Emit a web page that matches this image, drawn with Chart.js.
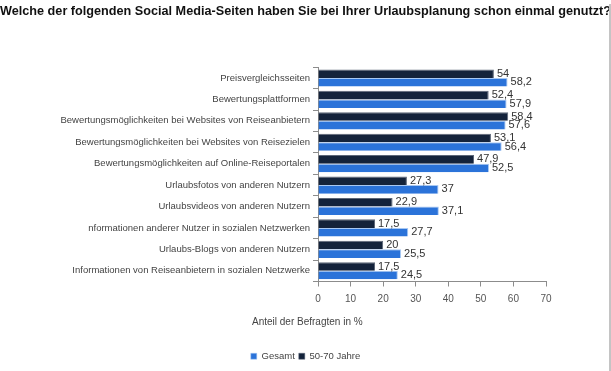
<!DOCTYPE html>
<html>
<head>
<meta charset="utf-8">
<script src="https://cdn.jsdelivr.net/npm/chart.js@4/dist/chart.umd.min.js"></script>
<style>
html,body{margin:0;padding:0;background:#fff;}
#wrap{position:relative;width:611px;height:371px;}
</style>
</head>
<body>
<div id="wrap"><canvas id="c" width="611" height="371"></canvas></div>
<script>
const titleText = "Welche der folgenden Social Media-Seiten haben Sie bei Ihrer Urlaubsplanung schon einmal genutzt?";
const categories = [
  "Preisvergleichsseiten",
  "Bewertungsplattformen",
  "Bewertungsmöglichkeiten bei Websites von Reiseanbietern",
  "Bewertungsmöglichkeiten bei Websites von Reisezielen",
  "Bewertungsmöglichkeiten auf Online-Reiseportalen",
  "Urlaubsfotos von anderen Nutzern",
  "Urlaubsvideos von anderen Nutzern",
  "nformationen anderer Nutzer in sozialen Netzwerken",
  "Urlaubs-Blogs von anderen Nutzern",
  "Informationen von Reiseanbietern in sozialen Netzwerke"
];
const series5070 = [54, 52.4, 58.4, 53.1, 47.9, 27.3, 22.9, 17.5, 20, 17.5];
const seriesGesamt = [58.2, 57.9, 57.6, 56.4, 52.5, 37, 37.1, 27.7, 25.5, 24.5];
const xTicks = [0, 10, 20, 30, 40, 50, 60, 70];
const axisTitle = "Anteil der Befragten in %";

const valueLabels = {
  id: 'valueLabels',
  afterDatasetsDraw(chart) {
    const ctx = chart.ctx;
    ctx.save();
    ctx.font = '11px "Liberation Sans", Arial, sans-serif';
    ctx.fillStyle = '#333333';
    ctx.textAlign = 'left';
    ctx.textBaseline = 'middle';
    chart.data.datasets.forEach((ds, i) => {
      const meta = chart.getDatasetMeta(i);
      meta.data.forEach((bar, j) => {
        const v = ds.data[j];
        ctx.fillText(String(v).replace('.', ','), bar.x + 3, bar.y);
      });
    });
    ctx.restore();
  }
};

const extras = {
  id: 'extras',
  afterDraw(chart) {
    const ctx = chart.ctx;
    const a = chart.chartArea;
    ctx.save();
    ctx.font = '10px "Liberation Sans", Arial, sans-serif';
    ctx.fillStyle = '#444444';
    ctx.textAlign = 'left';
    ctx.textBaseline = 'middle';
    ctx.fillText(axisTitle, a.left - 66, a.bottom + 41);
    ctx.fillStyle = '#c4c4c4';
    ctx.fillRect(chart.width - 2, 4, 2, chart.height - 4);
    ctx.restore();
  }
};

new Chart(document.getElementById('c'), {
  type: 'bar',
  data: {
    labels: categories,
    datasets: [
      {
        label: '50-70 Jahre',
        data: series5070,
        backgroundColor: '#14233b',
        borderColor: '#5d6778',
        borderWidth: {top: 1, right: 1, bottom: 0, left: 0},
        categoryPercentage: 0.8,
        barPercentage: 1.0
      },
      {
        label: 'Gesamt',
        data: seriesGesamt,
        backgroundColor: '#2b73d9',
        borderColor: '#a8c8f2',
        borderWidth: {top: 1, right: 1, bottom: 0, left: 0},
        categoryPercentage: 0.8,
        barPercentage: 1.0
      }
    ]
  },
  options: {
    indexAxis: 'y',
    responsive: false,
    animation: false,
    layout: { padding: { left: 0, right: 0, top: 0, bottom: 0 } },
    plugins: {
      title: {
        display: true,
        text: titleText,
        color: '#111111',
        font: { family: '"Liberation Sans", Arial, sans-serif', size: 13.55, weight: 'bold' },
        padding: { top: 3, bottom: 48 }
      },
      legend: {
        display: true,
        position: 'bottom',
        reverse: true,
        labels: {
          boxWidth: 6,
          boxHeight: 6,
          padding: 4,
          color: '#444444',
          font: { family: '"Liberation Sans", Arial, sans-serif', size: 9.5 }
        }
      },
      tooltip: { enabled: false }
    },
    scales: {
      x: {
        min: 0,
        max: 70,
        afterBuildTicks(scale) { scale.ticks = xTicks.map(v => ({ value: v })); },
        afterFit(scale) { scale.height = 66; },
        grid: { display: true, drawOnChartArea: false, drawTicks: true, tickLength: 5, color: '#8c8c8c' },
        border: { display: true, color: '#8c8c8c' },
        ticks: {
          color: '#555555',
          padding: 7,
          font: { family: '"Liberation Sans", Arial, sans-serif', size: 10 }
        }
      },
      y: {
        afterFit(scale) { scale.width = 318; },
        grid: { display: true, drawOnChartArea: false, drawTicks: true, tickLength: 5, color: '#8c8c8c', offset: true },
        border: { display: true, color: '#8c8c8c' },
        ticks: {
          color: '#444444',
          padding: 3,
          autoSkip: false,
          font: { family: '"Liberation Sans", Arial, sans-serif', size: 9.5 }
        }
      },
      yRightSpace: {
        type: 'linear',
        position: 'right',
        display: true,
        afterFit(scale) { scale.width = 65; },
        grid: { display: false },
        border: { display: false },
        ticks: { display: false }
      }
    }
  },
  plugins: [valueLabels, extras]
});
</script>
</body>
</html>
